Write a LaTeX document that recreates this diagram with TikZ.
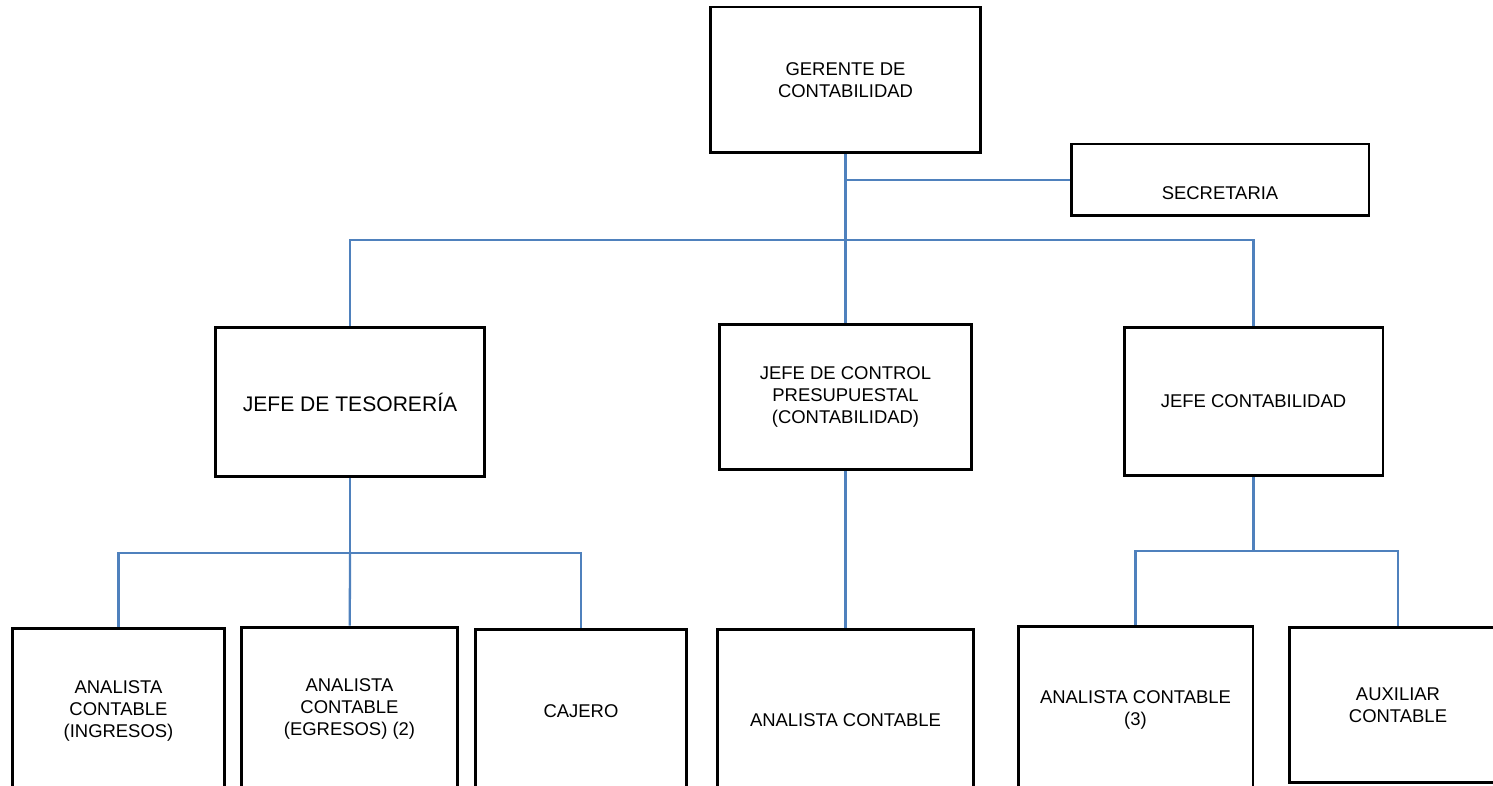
\documentclass[tikz,border=0pt]{standalone}
\usepackage{fontspec}
\setmainfont{Liberation Sans}
\definecolor{linkblue}{HTML}{4F81BD}
\begin{document}
\begin{tikzpicture}
            [x = 0.02cm, y = -0.02cm,
             box/.style = {draw, line width = 1.7pt, align = center, inner sep = 0pt,
                           font = \fontsize{10.5}{12.5}\selectfont},
             link/.style = {draw = linkblue, line width = 1.3pt}]
            \path[use as bounding box, clip] (0,0) rectangle (1493,786);
            \node[box, minimum width = 5.42cm, minimum height = 2.92cm] (ger) at (845.5,80) {GERENTE DE\\CONTABILIDAD};
            \node[box, minimum width = 5.96cm, minimum height = 1.44cm,
                  label = {[yshift = -0.26cm, font = \fontsize{10.5}{12.5}\selectfont]center:SECRETARIA}] (sec) at (1220,180) {};
            \node[box, minimum width = 5.40cm, minimum height = 3.00cm, font = \fontsize{12}{14}\selectfont] (tes) at (350,402) {JEFE DE TESORERÍA};
            \node[box, minimum width = 5.06cm, minimum height = 2.92cm] (pre) at (845.5,397) {JEFE DE CONTROL\\PRESUPUESTAL\\(CONTABILIDAD)};
            \node[box, minimum width = 5.18cm, minimum height = 2.98cm] (jco) at (1253.5,401.5) {JEFE CONTABILIDAD};
            \node[box, minimum width = 4.26cm, minimum height = 3.32cm] (ing) at (118.5,711) {ANALISTA\\CONTABLE\\(INGRESOS)};
            \node[box, minimum width = 4.34cm, minimum height = 3.28cm] (egr) at (349.5,709) {ANALISTA\\CONTABLE\\(EGRESOS) (2)};
            \node[box, minimum width = 4.24cm, minimum height = 3.28cm] (caj) at (581,711) {CAJERO};
            \node[box, minimum width = 5.14cm, minimum height = 3.64cm] (ana) at (845.5,720) {ANALISTA CONTABLE};
            \node[box, minimum width = 4.70cm, minimum height = 3.36cm] (ana3) at (1135.5,710) {ANALISTA CONTABLE\\(3)};
            \node[box, minimum width = 4.36cm, minimum height = 3.12cm] (aux) at (1398,705) {AUXILIAR\\CONTABLE};
            \coordinate (top) at (845.5,240);
            \coordinate (mid) at (845.5,180);
            \coordinate (tbus) at (350,553);
            \coordinate (cbus) at (1253.5,551);
            \draw[link] (ger) -- (pre);
            \draw[link] (mid) -- (sec);
            \draw[link] (top) -| (tes);
            \draw[link] (top) -| (jco);
            \draw[link] (tes) -- (tbus);
            \draw[link] (tbus) -| (ing);
            \draw[link] (tbus) -- (egr);
            \draw[link] (tbus) -| (caj);
            \draw[link] (pre) -- (ana);
            \draw[link] (jco) -- (cbus);
            \draw[link] (cbus) -| (ana3);
            \draw[link] (cbus) -| (aux);
        \end{tikzpicture}
\end{document}
